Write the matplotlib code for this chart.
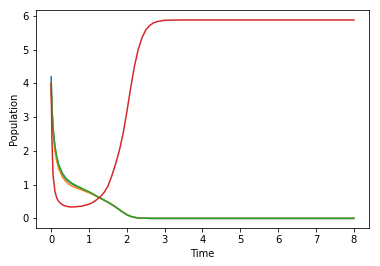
import numpy as np
import matplotlib
matplotlib.use('Agg')
import matplotlib.pyplot as plt

# values
time = [0, 0.02, 0.05, 0.1, 0.15, 0.2, 0.3, 0.4, 0.5, 0.6, 0.7, 0.8, 0.9, 1.0,
        1.1, 1.2, 1.3, 1.4, 1.5, 1.6, 1.7, 1.8, 1.9, 2.0, 2.1, 2.2, 2.3, 2.4,
        2.5, 2.6, 2.7, 2.8, 3.0, 3.5, 4, 5, 6, 7, 8]

pop_blue = [4.2, 3.35, 2.65, 2.1, 1.78, 1.56, 1.3, 1.15, 1.06, 0.99, 0.93, 0.88,
            0.83, 0.78, 0.72, 0.66, 0.6, 0.54, 0.48, 0.41, 0.34, 0.26, 0.18,
            0.11, 0.06, 0.03, 0.015, 0.007, 0.003, 0.001, 0, 0, 0, 0, 0, 0, 0, 0, 0]
pop_orange = [4.0, 3.2, 2.55, 2.0, 1.68, 1.47, 1.22, 1.08, 0.99, 0.93, 0.89, 0.85,
              0.8, 0.76, 0.71, 0.65, 0.6, 0.54, 0.48, 0.42, 0.34, 0.26, 0.18,
              0.11, 0.06, 0.03, 0.015, 0.007, 0.003, 0.001, 0, 0, 0, 0, 0, 0, 0, 0, 0]
pop_green = [4.0, 3.3, 2.7, 2.15, 1.82, 1.6, 1.33, 1.18, 1.08, 1.01, 0.95, 0.9,
             0.84, 0.79, 0.73, 0.66, 0.6, 0.54, 0.48, 0.41, 0.34, 0.26, 0.18,
             0.11, 0.06, 0.03, 0.015, 0.007, 0.003, 0.001, 0, 0, 0, 0, 0, 0, 0, 0, 0]
pop_red = [4.0, 2.4, 1.3, 0.8, 0.6, 0.5, 0.4, 0.36, 0.34, 0.34, 0.35, 0.36,
           0.39, 0.42, 0.47, 0.55, 0.64, 0.77, 0.95, 1.25, 1.6, 2.0, 2.5,
           3.15, 3.85, 4.5, 5.0, 5.35, 5.58, 5.71, 5.79, 5.83, 5.87, 5.88,
           5.88, 5.88, 5.88, 5.88, 5.88]

fig = plt.figure(figsize=(380 / 72, 266 / 72), dpi=72)
ax = fig.add_axes([36 / 380, (266 - 228.3) / 266, (369 - 36) / 380, (228.3 - 10) / 266])

for series in [pop_blue, pop_orange, pop_green, pop_red]:
    ax.plot(time, series)

ax.set_xlabel('Time')
ax.set_ylabel('Population')

fig.savefig('out.png', dpi=72)
